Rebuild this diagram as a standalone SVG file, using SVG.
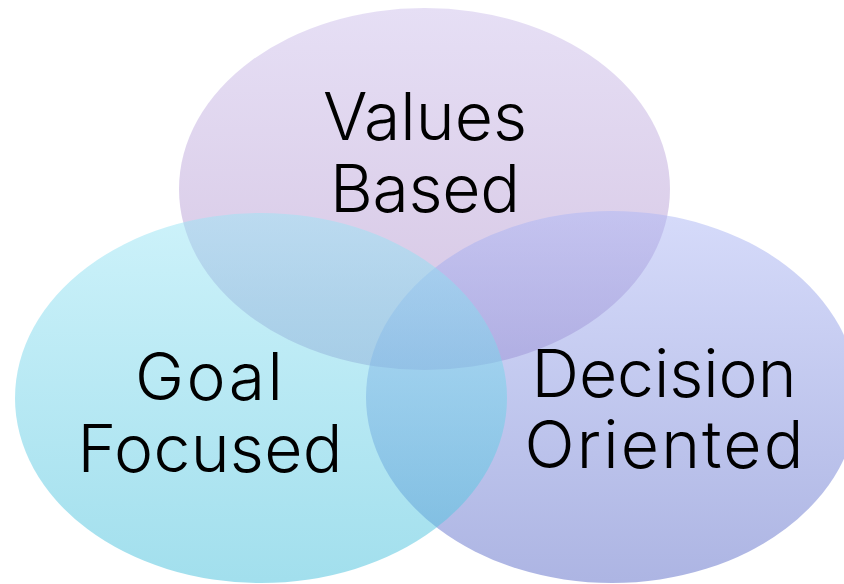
<svg xmlns="http://www.w3.org/2000/svg" width="844" height="584" viewBox="0 0 844 584">
  <defs>
    <linearGradient id="gTop" gradientUnits="userSpaceOnUse" x1="0" y1="8" x2="0" y2="370">
      <stop offset="0" stop-color="#cdbfeb"/>
      <stop offset="1" stop-color="#ab8bc7"/>
    </linearGradient>
    <linearGradient id="gLeft" gradientUnits="userSpaceOnUse" x1="0" y1="213" x2="0" y2="583">
      <stop offset="0" stop-color="#9be5f5"/>
      <stop offset="1" stop-color="#45bfdb"/>
    </linearGradient>
    <linearGradient id="gRight" gradientUnits="userSpaceOnUse" x1="0" y1="211" x2="0" y2="583">
      <stop offset="0" stop-color="#adb7f5"/>
      <stop offset="1" stop-color="#5b6bc7"/>
    </linearGradient>
  </defs>
  <style>
    .circle { fill-opacity: 0.5; stroke: none; }
    .label { font-family: Inter, "Liberation Sans", Arial, sans-serif; font-weight: 300; font-size: 66px; fill: #000000; text-anchor: middle; }
  </style>
  <rect width="844" height="584" fill="#ffffff"/>

  <g id="values-based">
    <ellipse class="circle" cx="424.5" cy="189" rx="245.5" ry="181" fill="url(#gTop)"/>
  </g>
  <g id="decision-oriented">
    <ellipse class="circle" cx="612" cy="397" rx="246" ry="186" fill="url(#gRight)"/>
  </g>
  <g id="goal-focused">
    <ellipse class="circle" cx="261" cy="398" rx="246" ry="185" fill="url(#gLeft)"/>
  </g>

  <g id="labels">
    <text class="label" x="425" y="140" textLength="204" lengthAdjust="spacing">Values</text>
    <text class="label" x="425" y="212" textLength="190" lengthAdjust="spacing">Based</text>
    <text class="label" x="209" y="400" textLength="148" lengthAdjust="spacing">Goal</text>
    <text class="label" x="210" y="472" textLength="265" lengthAdjust="spacing">Focused</text>
    <text class="label" x="664" y="397" textLength="265" lengthAdjust="spacing">Decision</text>
    <text class="label" x="664" y="468" textLength="279" lengthAdjust="spacing">Oriented</text>
  </g>
</svg>
